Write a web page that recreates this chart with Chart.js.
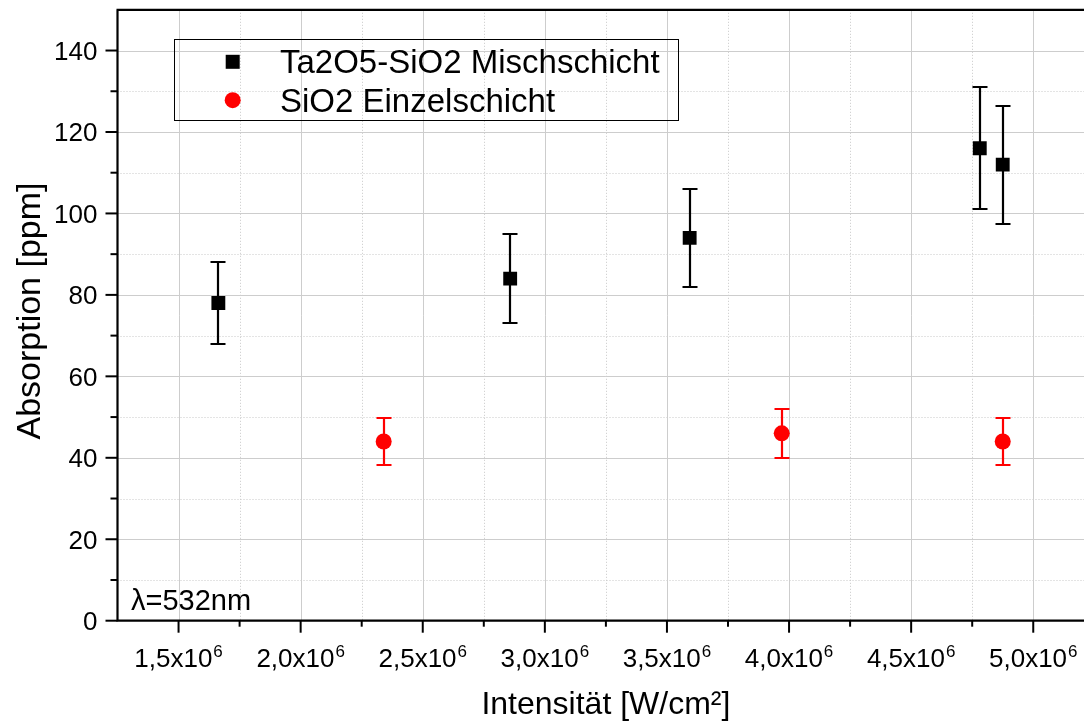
<!DOCTYPE html>
<html>
<head>
<meta charset="utf-8">
<script src="https://cdn.jsdelivr.net/npm/chart.js@4/dist/chart.umd.min.js"></script>
<style>
  html, body { margin: 0; padding: 0; background: #fff; overflow: hidden; }
  #wrap { width: 1110px; height: 725px; }
</style>
</head>
<body>
<div id="wrap"><canvas id="c" width="1110" height="725"></canvas></div>
<script>
// Ta2O5-SiO2 mixed layer: intensity [W/cm²], absorption [ppm], error
const mixLabel = 'Ta2O5-SiO2 Mischschicht';
const mixX   = [1.663e6, 2.858e6, 3.593e6, 4.781e6, 4.875e6];
const mixY   = [78, 84, 94, 116, 112];
const mixErr = [10, 11, 12, 15, 14.5];

// SiO2 single layer
const sioLabel = 'SiO2 Einzelschicht';
const sioX   = [2.340e6, 3.970e6, 4.875e6];
const sioY   = [44, 46, 44];
const sioErr = [5.8, 6.1, 5.8];

// Axis ranges and ticks
const xRange = [1.25e6, 5.25e6];
const yRange = [0, 150];
const xMajor = [1.5e6, 2.0e6, 2.5e6, 3.0e6, 3.5e6, 4.0e6, 4.5e6, 5.0e6];
const xMajorLabels = ['1,5', '2,0', '2,5', '3,0', '3,5', '4,0', '4,5', '5,0'];
const xMinor = [1.75e6, 2.25e6, 2.75e6, 3.25e6, 3.75e6, 4.25e6, 4.75e6];
const yMajor = [0, 20, 40, 60, 80, 100, 120, 140];
const yMinor = [10, 30, 50, 70, 90, 110, 130];

const xTitle = 'Intensität [W/cm²]';
const yTitle = 'Absorption [ppm]';
const noteText = 'λ=532nm';

const FONT = '"Liberation Sans", Arial, Helvetica, sans-serif';

function pts(xs, ys, es) {
  return xs.map((x, i) => ({ x: x, y: ys[i], err: es[i] }));
}

const gridPlugin = {
  id: 'originGrid',
  beforeDatasetsDraw(chart) {
    const { ctx, chartArea: a, scales: { x, y } } = chart;
    ctx.save();
    ctx.lineWidth = 1;
    // minor dotted grid
    ctx.strokeStyle = 'rgb(200,200,200)';
    ctx.setLineDash([1, 2]);
    xMinor.forEach(v => {
      const px = Math.round(x.getPixelForValue(v)) + 0.5;
      ctx.beginPath(); ctx.moveTo(px, a.top); ctx.lineTo(px, a.bottom); ctx.stroke();
    });
    yMinor.forEach(v => {
      const py = Math.round(y.getPixelForValue(v)) + 0.5;
      ctx.beginPath(); ctx.moveTo(a.left, py); ctx.lineTo(a.right, py); ctx.stroke();
    });
    // major solid grid
    ctx.setLineDash([]);
    ctx.strokeStyle = 'rgb(205,205,205)';
    xMajor.forEach(v => {
      const px = Math.round(x.getPixelForValue(v)) + 0.5;
      ctx.beginPath(); ctx.moveTo(px, a.top); ctx.lineTo(px, a.bottom); ctx.stroke();
    });
    yMajor.forEach(v => {
      if (v === yRange[0]) return;
      const py = Math.round(y.getPixelForValue(v)) + 0.5;
      ctx.beginPath(); ctx.moveTo(a.left, py); ctx.lineTo(a.right, py); ctx.stroke();
    });

    // error bars
    chart.data.datasets.forEach(ds => {
      ctx.strokeStyle = ds.backgroundColor;
      ctx.lineWidth = 2.2;
      ds.data.forEach(p => {
        const px = Math.round(x.getPixelForValue(p.x));
        const top = Math.round(y.getPixelForValue(p.y + p.err));
        const bot = Math.round(y.getPixelForValue(p.y - p.err));
        ctx.beginPath();
        ctx.moveTo(px, top); ctx.lineTo(px, bot);
        ctx.moveTo(px - 7.5, top); ctx.lineTo(px + 7.5, top);
        ctx.moveTo(px - 7.5, bot); ctx.lineTo(px + 7.5, bot);
        ctx.stroke();
      });
    });
    ctx.restore();
  },
  afterDraw(chart) {
    const { ctx, chartArea: a, scales: { x, y } } = chart;
    ctx.save();
    ctx.strokeStyle = '#000';
    ctx.fillStyle = '#000';
    ctx.lineWidth = 2.2;
    // axis lines: left, bottom, top
    ctx.beginPath();
    ctx.moveTo(a.left, a.top); ctx.lineTo(a.left, a.bottom + 1);
    ctx.moveTo(a.left - 1, a.bottom); ctx.lineTo(a.right, a.bottom);
    ctx.moveTo(a.left - 1, a.top); ctx.lineTo(a.right, a.top);
    ctx.stroke();

    // y ticks and labels
    ctx.lineWidth = 2;
    ctx.font = '26px ' + FONT;
    ctx.textAlign = 'right';
    ctx.textBaseline = 'alphabetic';
    yMajor.forEach(v => {
      const py = y.getPixelForValue(v);
      ctx.beginPath(); ctx.moveTo(a.left - 12, py); ctx.lineTo(a.left, py); ctx.stroke();
      ctx.fillText(String(v), a.left - 20, py + 9.4);
    });
    yMinor.forEach(v => {
      const py = y.getPixelForValue(v);
      ctx.beginPath(); ctx.moveTo(a.left - 7, py); ctx.lineTo(a.left, py); ctx.stroke();
    });

    // x ticks and labels with superscript exponent
    xMajor.forEach((v, i) => {
      const px = x.getPixelForValue(v);
      ctx.beginPath(); ctx.moveTo(px, a.bottom); ctx.lineTo(px, a.bottom + 12); ctx.stroke();
      const base = xMajorLabels[i] + 'x10';
      ctx.font = '26px ' + FONT;
      const wb = ctx.measureText(base).width;
      ctx.font = '17px ' + FONT;
      const ws = ctx.measureText('6').width;
      const start = px - (wb + ws + 1) / 2;
      ctx.textAlign = 'left';
      ctx.font = '26px ' + FONT;
      ctx.fillText(base, start, a.bottom + 46);
      ctx.font = '17px ' + FONT;
      ctx.fillText('6', start + wb + 1, a.bottom + 36.3);
    });
    xMinor.forEach(v => {
      const px = x.getPixelForValue(v);
      ctx.beginPath(); ctx.moveTo(px, a.bottom); ctx.lineTo(px, a.bottom + 6); ctx.stroke();
    });

    // axis titles
    ctx.font = '32px ' + FONT;
    ctx.textAlign = 'center';
    ctx.fillText(xTitle, (a.left + a.right) / 2, 714);
    ctx.save();
    ctx.font = '34px ' + FONT;
    ctx.translate(40, 311);
    ctx.rotate(-Math.PI / 2);
    ctx.fillText(yTitle, 0, 0);
    ctx.restore();

    // wavelength note
    ctx.font = '29px ' + FONT;
    ctx.textAlign = 'left';
    ctx.fillText(noteText, 131, 610);

    // legend
    ctx.lineWidth = 1;
    ctx.strokeRect(174.5, 39.5, 504, 81);
    ctx.font = '33px ' + FONT;
    const rows = [73.3, 111.7];
    chart.data.datasets.forEach((ds, i) => {
      const cy = rows[i] - 11.5;
      ctx.fillStyle = ds.backgroundColor;
      if (ds.pointStyle === 'rect') {
        ctx.fillRect(232.7 - 7, cy - 7, 14, 14);
      } else {
        ctx.beginPath(); ctx.arc(232.7, cy, 8, 0, Math.PI * 2); ctx.fill();
      }
      ctx.fillStyle = '#000';
      ctx.fillText(ds.label, 280, rows[i]);
    });
    ctx.restore();
  }
};

new Chart(document.getElementById('c'), {
  type: 'scatter',
  data: {
    datasets: [
      {
        label: mixLabel,
        data: pts(mixX, mixY, mixErr),
        pointStyle: 'rect',
        pointRadius: 9.8,
        pointBorderWidth: 0,
        backgroundColor: '#000000',
        borderColor: '#000000'
      },
      {
        label: sioLabel,
        data: pts(sioX, sioY, sioErr),
        pointStyle: 'circle',
        pointRadius: 8,
        pointBorderWidth: 0,
        backgroundColor: '#ff0000',
        borderColor: '#ff0000'
      }
    ]
  },
  options: {
    responsive: false,
    animation: false,
    layout: { padding: { left: 117.5, top: 9.2, right: 15.7, bottom: 104.3 } },
    plugins: { legend: { display: false }, tooltip: { enabled: false } },
    scales: {
      x: { type: 'linear', min: xRange[0], max: xRange[1], display: false },
      y: { type: 'linear', min: yRange[0], max: yRange[1], display: false }
    }
  },
  plugins: [gridPlugin]
});
</script>
</body>
</html>
